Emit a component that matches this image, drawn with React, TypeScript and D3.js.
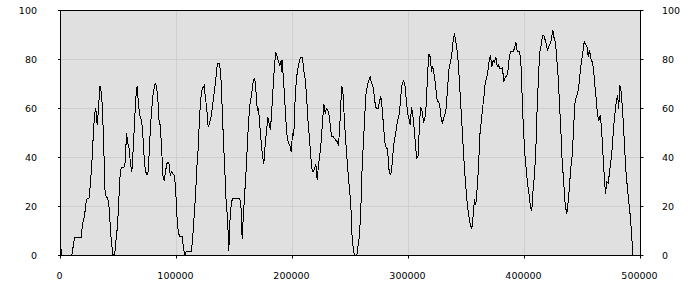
import React from "react";
import * as d3 from "d3";

const xTicks = [0, 100000, 200000, 300000, 400000, 500000];
const yTicks = [0, 20, 40, 60, 80, 100];

const xs = [
  0, 1300, 9700, 12100, 17800, 19000, 20700, 22400, 24700, 25900, 27000, 28200, 29300, 30400, 31600, 32800, 33900, 35100, 36200, 37300,
  38500, 40800, 42000, 43100, 44200, 45400, 46600, 47700, 48900, 50000, 51100, 52300, 54600, 55800, 56900, 58000, 59200, 60300, 61500, 62700,
  63800, 64900, 66100, 67200, 68400, 69600, 70700, 71800, 73000, 74100, 75300, 76500, 77600, 78700, 79900, 81600, 82800, 83900, 84700, 85900,
  87100, 88200, 89400, 90500, 91600, 93400, 94600, 95700, 96800, 98000, 99100, 100300, 101500, 102600, 104900, 106000, 107200, 108400, 112900, 114100,
  115300, 116400, 117500, 118700, 119800, 120900, 122200, 123900, 125000, 126100, 127300, 128400, 129600, 130800, 131900, 133000, 134200, 135300, 137100, 138200,
  139400, 140500, 141600, 142800, 144000, 145100, 146300, 147400, 148500, 154300, 155400, 156600, 157800, 158900, 160100, 161200, 162300, 163500, 164700, 165800,
  167000, 167800, 169000, 169600, 170700, 171800, 173000, 174100, 175300, 176500, 177600, 178700, 179900, 181000, 182200, 183400, 184500, 185600, 186800, 187900,
  189100, 190300, 190800, 191300, 191900, 193100, 194200, 195400, 196600, 197700, 198900, 200000, 201100, 202300, 203400, 204600, 205800, 206900, 208600, 209700,
  210900, 212100, 213200, 214400, 215500, 216600, 217800, 219000, 220100, 221300, 222400, 223500, 224700, 225900, 227000, 228200, 229300, 230400, 231600, 232800,
  233900, 235100, 236200, 237300, 238500, 239700, 240800, 242000, 242500, 243700, 244800, 245900, 247200, 248300, 249400, 250400, 251300, 252600, 253700, 255400,
  256600, 257800, 258900, 260100, 261200, 262300, 263500, 264700, 265800, 267000, 268100, 269200, 270400, 271600, 272700, 273900, 275000, 276100, 277300, 278400,
  279600, 280800, 281900, 283000, 284200, 285300, 286500, 287700, 288800, 289900, 291100, 292200, 293400, 294600, 295700, 296800, 298000, 299100, 300300, 301500,
  302600, 303700, 304900, 306000, 307200, 308400, 309500, 310600, 311800, 312900, 314100, 315300, 316400, 317500, 318700, 319800, 320900, 322200, 323300, 324400,
  325600, 326700, 327800, 329100, 330200, 331300, 332500, 333600, 334900, 336200, 337300, 338500, 339700, 340800, 342000, 343100, 344200, 345400, 346600, 347700,
  348900, 350000, 351100, 352300, 353400, 354600, 355800, 356900, 358000, 359200, 360300, 361500, 362700, 363800, 364900, 366100, 367200, 368400, 369600, 370700,
  371800, 373000, 374100, 375300, 376500, 377600, 378700, 379900, 381000, 382200, 383400, 384500, 385600, 386800, 387900, 390300, 391400, 392500, 393700, 395900,
  397200, 398300, 399400, 400600, 401700, 402800, 404100, 405200, 406300, 407500, 408600, 409700, 410900, 412100, 413200, 414400, 415500, 416600, 417800, 419000,
  419800, 420900, 422200, 423300, 424400, 425600, 426700, 427800, 429100, 430200, 431300, 432500, 433600, 434700, 435300, 436500, 437700, 438800, 439900, 441100,
  442200, 443400, 444600, 445700, 446800, 448000, 449100, 450300, 451500, 452600, 453700, 454900, 456000, 457200, 458400, 459500, 460600, 461800, 462900, 464100,
  465300, 466400, 467500, 468700, 469800, 470900, 472200, 473300, 474400, 475600, 476700, 477800, 479100, 480200, 481300, 481900, 483000, 484200, 485300, 486500,
  487700, 488800, 489900, 491100, 492200, 493400,
];

const values = [
  4, 0, 0, 7.2, 7.2, 12.8, 16.2, 23, 23.5, 30, 37.5, 48.4, 57.3, 60, 53.2, 60, 69.3, 66.8, 60, 43.7,
  24.6, 23.3, 19.2, 10.3, 4, 0, 0, 5.6, 11, 19.2, 31.4, 35.8, 36, 38.2, 49.8, 45.7, 43.7, 37.5, 34.1, 43.7,
  53.9, 64.1, 69.3, 61.4, 57.3, 55.2, 51.8, 42.3, 35.5, 33, 33, 42.3, 53.2, 60, 66.1, 70.2, 69, 64.1, 56, 53.2,
  45, 32.8, 30.3, 34.1, 37.5, 38.2, 32.8, 34, 33.5, 32.8, 28.7, 16.5, 9.7, 7.9, 7.9, 2.9, 0, 1.8, 1.8, 8.3,
  16.5, 24.6, 35.5, 43.7, 55.9, 64.1, 68.2, 69.3, 64.1, 60, 52.5, 53.9, 55.9, 60, 64.1, 68.2, 73.6, 78.4, 78.4, 73.6,
  60, 46.4, 35.5, 21.9, 15.1, 2, 16.5, 21.9, 23.3, 23.3, 22, 6.9, 17.8, 26, 35.5, 46.4, 55.9, 62.7, 65.4, 70.2,
  72.2, 70.9, 64.1, 59.3, 60, 53.2, 46.4, 40.9, 37.5, 45.7, 50.5, 56.6, 53.9, 51.1, 60, 69.5, 77.7, 83.1, 81.1, 79,
  77.7, 79.7, 75, 79.7, 73.6, 65.4, 55.9, 48.4, 45.7, 45, 42.3, 49.8, 49.1, 64.1, 72.2, 76.3, 79, 80.7, 80.7, 75.6,
  72.2, 65.4, 55.9, 49.1, 42.3, 35.5, 34.1, 35.5, 37.2, 30.7, 37, 40.9, 46.4, 54.6, 62, 57.9, 60, 59.3, 57.3, 51.8,
  48.4, 48.4, 47.7, 47, 46.4, 45.3, 53.2, 65.4, 69.3, 65.4, 54.6, 46.4, 38.2, 31.4, 26, 19.2, 8.3, 1.5, 0, 0,
  4.2, 8.3, 19.2, 36.9, 46.4, 57.3, 66.8, 69.5, 71.6, 72.9, 70.2, 69.5, 65.4, 60.6, 60, 60, 62.7, 65.1, 60, 53.2,
  46.4, 43.7, 43.7, 35.5, 33, 34.1, 40.9, 47, 49.1, 53.2, 55.9, 57.9, 65.4, 70.2, 71.2, 70.2, 64.1, 58.6, 55.9, 53.2,
  60.6, 57.3, 51.8, 45, 39.5, 40.9, 54.6, 60.6, 58.6, 54.6, 55.9, 61.4, 73.6, 82.4, 81.1, 75, 77.2, 73.6, 69.5, 64.1,
  62.7, 62, 57.3, 53.9, 55.9, 57.3, 60, 68.2, 76, 79, 81.8, 87.9, 90.6, 87.2, 83.1, 77.7, 68.2, 58.6, 49.1, 39.5,
  31.4, 24.6, 19.2, 15.1, 12.4, 11, 16.5, 23, 20.5, 27.3, 35.5, 49.1, 54.6, 60, 64.1, 70.2, 72.2, 75, 79.7, 81.8,
  77, 79.7, 79, 81.1, 77, 77.7, 76.3, 76.3, 76.6, 70.9, 72.9, 72.9, 75, 80.4, 83.1, 83.4, 84.5, 87.2, 83.4, 83.1,
  76.3, 60, 49.1, 39.5, 34.1, 28.7, 24.6, 19.2, 18.5, 27.3, 32.8, 42.3, 60, 73.6, 83.1, 85.8, 89.9, 89.9, 88, 85.8,
  83.8, 85.2, 86.5, 88.5, 92, 88.5, 87.2, 80.4, 72.2, 61.4, 51.8, 38.2, 31.4, 23.3, 19.9, 17.1, 22, 28.7, 35.5, 40.9,
  50.5, 62, 64.8, 66.1, 68.8, 75, 79, 83.1, 87.2, 86.1, 85.8, 81.1, 83.8, 80.4, 79, 76.3, 69.5, 64.1, 57.3, 55.2,
  57.3, 51.8, 42.3, 32.8, 25.3, 30, 29.4, 34.1, 38.2, 43.7, 51.8, 57.3, 62.7, 65.4, 60, 69.5, 68.2, 61.4, 53.2, 42.3,
  32.8, 27.3, 22, 16.5, 9.7, 0,
];

const W = 700;
const H = 300;
const left = 60.5;
const right = 640.5;
const top = 10.5;
const bottom = 255.5;
const font = "'DejaVu Sans', Verdana, sans-serif";

export default function App() {
  const x = d3.scaleLinear().domain([0, 500000]).range([left, right]);
  const y = d3.scaleLinear().domain([0, 100]).range([bottom, top]);
  const pts: [number, number][] = xs.map((v, i) => [v, values[i]]);
  const line = d3
    .line<[number, number]>()
    .x((d) => x(d[0]))
    .y((d) => y(d[1]));

  return (
    <svg
      width={W}
      height={H}
      style={{ position: "absolute", left: 0, top: 0 }}
    >
      <rect x={0} y={0} width={W} height={H} fill="#ffffff" />
      <rect
        x={left}
        y={top}
        width={right - left}
        height={bottom - top}
        fill="#e0e0e0"
      />
      {xTicks.slice(1, -1).map((t) => (
        <line
          key={"gx" + t}
          x1={x(t)}
          x2={x(t)}
          y1={top}
          y2={bottom}
          stroke="#cfcfcf"
          strokeWidth={1}
        />
      ))}
      {yTicks.slice(1, -1).map((t) => (
        <line
          key={"gy" + t}
          x1={left}
          x2={right}
          y1={y(t)}
          y2={y(t)}
          stroke="#cfcfcf"
          strokeWidth={1}
        />
      ))}
      <path
        d={line(pts) || ""}
        fill="none"
        stroke="#000"
        strokeWidth={1}
        shapeRendering="crispEdges"
      />
      <rect
        x={left}
        y={top}
        width={right - left}
        height={bottom - top}
        fill="none"
        stroke="#000"
        strokeWidth={1}
      />
      {yTicks.map((t) => (
        <g key={"yt" + t}>
          <line x1={left - 2.5} x2={left} y1={y(t)} y2={y(t)} stroke="#000" />
          <line x1={right} x2={right + 3} y1={y(t)} y2={y(t)} stroke="#000" />
          <text
            x={37}
            y={y(t)}
            textAnchor="end"
            dominantBaseline="central"
            fontFamily={font}
            fontSize={9.5}
            fill="#000"
          >
            {t}
          </text>
          <text
            x={662}
            y={y(t)}
            textAnchor="start"
            dominantBaseline="central"
            fontFamily={font}
            fontSize={9.5}
            fill="#000"
          >
            {t}
          </text>
        </g>
      ))}
      {xTicks.map((t) => (
        <g key={"xt" + t}>
          <line x1={x(t)} x2={x(t)} y1={bottom} y2={bottom + 3} stroke="#000" />
          <text
            x={x(t) - 1}
            y={275}
            textAnchor="middle"
            dominantBaseline="central"
            fontFamily={font}
            fontSize={9.5}
            fill="#000"
          >
            {t}
          </text>
        </g>
      ))}
    </svg>
  );
}
